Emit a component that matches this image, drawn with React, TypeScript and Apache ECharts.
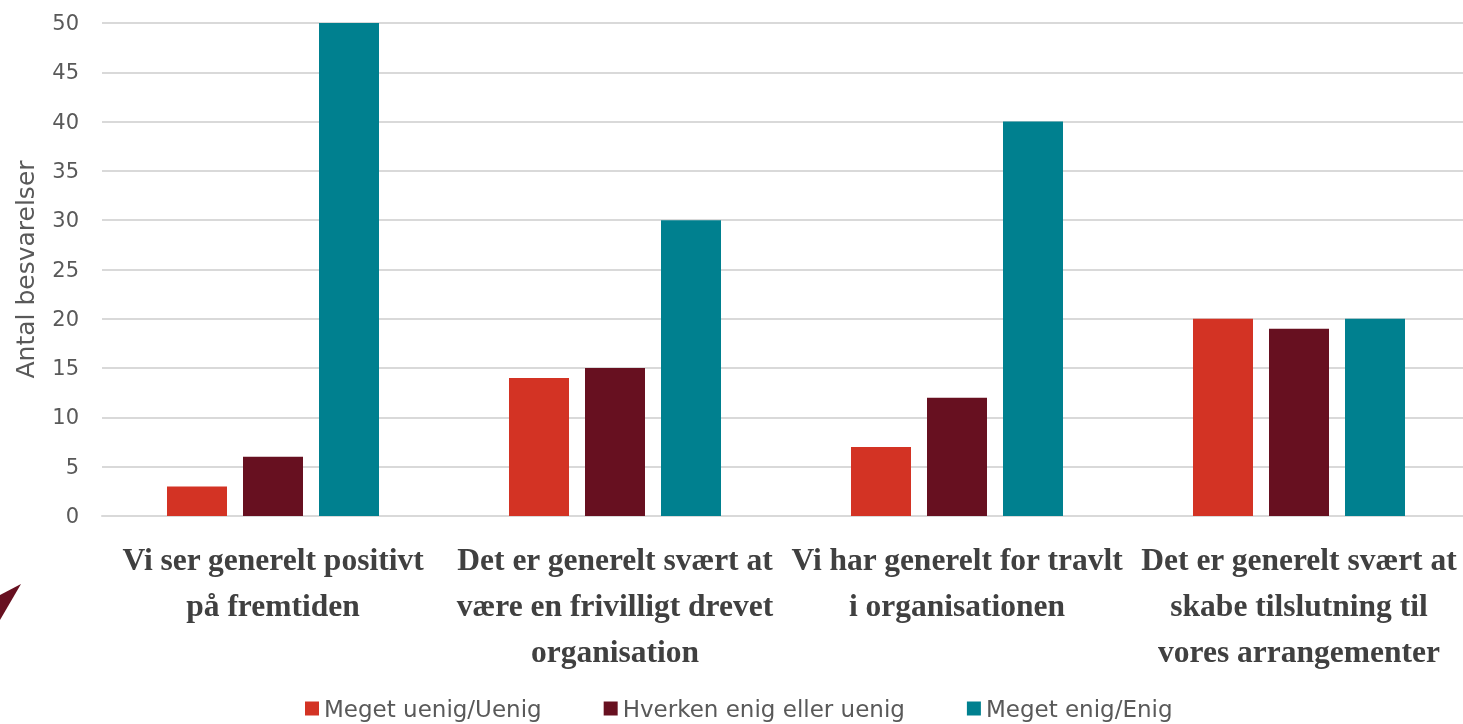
import React, { useEffect, useRef } from "react";
import * as echarts from "echarts";

const categories = [
  "Vi ser generelt positivt\npå fremtiden",
  "Det er generelt svært at\nvære en frivilligt drevet\norganisation",
  "Vi har generelt for travlt\ni organisationen",
  "Det er generelt svært at\nskabe tilslutning til\nvores arrangementer",
];
const seriesNames = ["Meget uenig/Uenig", "Hverken enig eller uenig", "Meget enig/Enig"];
const uenig = [3, 14, 7, 20];
const hverken = [6, 15, 12, 19];
const enig = [50, 30, 40, 20];
const colors = ["#D33324", "#671020", "#00808F"];

export default function App() {
  const ref = useRef<HTMLDivElement>(null);
  useEffect(() => {
    const chart = echarts.init(ref.current!, null, { renderer: "svg" });
    const values = [uenig, hverken, enig];
    chart.setOption({
      animation: false,
      color: colors,
      grid: { left: 102, top: 23, width: 1368, bottom: 208, containLabel: false },
      legend: {
        bottom: -1,
        left: 300,
        itemWidth: 14,
        itemHeight: 14,
        itemGap: 62,
        icon: "rect",
        textStyle: { fontFamily: "DejaVu Sans", fontSize: 23, color: "#595959" },
        data: seriesNames,
      },
      xAxis: {
        type: "category",
        data: categories,
        axisLine: { lineStyle: { color: "#d9d9d9", width: 2 } },
        axisTick: { show: false },
        axisLabel: {
          interval: 0,
          margin: 20,
          fontFamily: "Liberation Serif",
          fontWeight: "bold",
          fontSize: 31.5,
          lineHeight: 46,
          color: "#404040",
        },
      },
      yAxis: {
        type: "value",
        min: 0,
        max: 50,
        interval: 5,
        name: "Antal besvarelser",
        nameLocation: "middle",
        nameGap: 64,
        nameTextStyle: { fontFamily: "DejaVu Sans", fontSize: 25, color: "#595959" },
        axisLine: { show: false },
        axisTick: { show: false },
        splitLine: { lineStyle: { color: "#d9d9d9", width: 2 } },
        axisLabel: { margin: 23, fontFamily: "DejaVu Sans", fontSize: 21, color: "#595959" },
      },
      series: seriesNames.map((n, i) => ({
        name: n,
        type: "bar",
        data: values[i],
        barWidth: 60,
        barGap: "26.67%",
      })),
      graphic: [
        {
          type: "polygon",
          shape: { points: [[21, 584], [0, 595], [0, 620]] },
          style: { fill: "#671020" },
        },
      ],
    });
    return () => chart.dispose();
  }, []);
  return (
    <div style={{ position: "fixed", left: 0, top: 0, width: 1463, height: 724, overflow: "hidden" }}>
      <div ref={ref} style={{ width: 1480, height: 724 }} />
    </div>
  );
}
